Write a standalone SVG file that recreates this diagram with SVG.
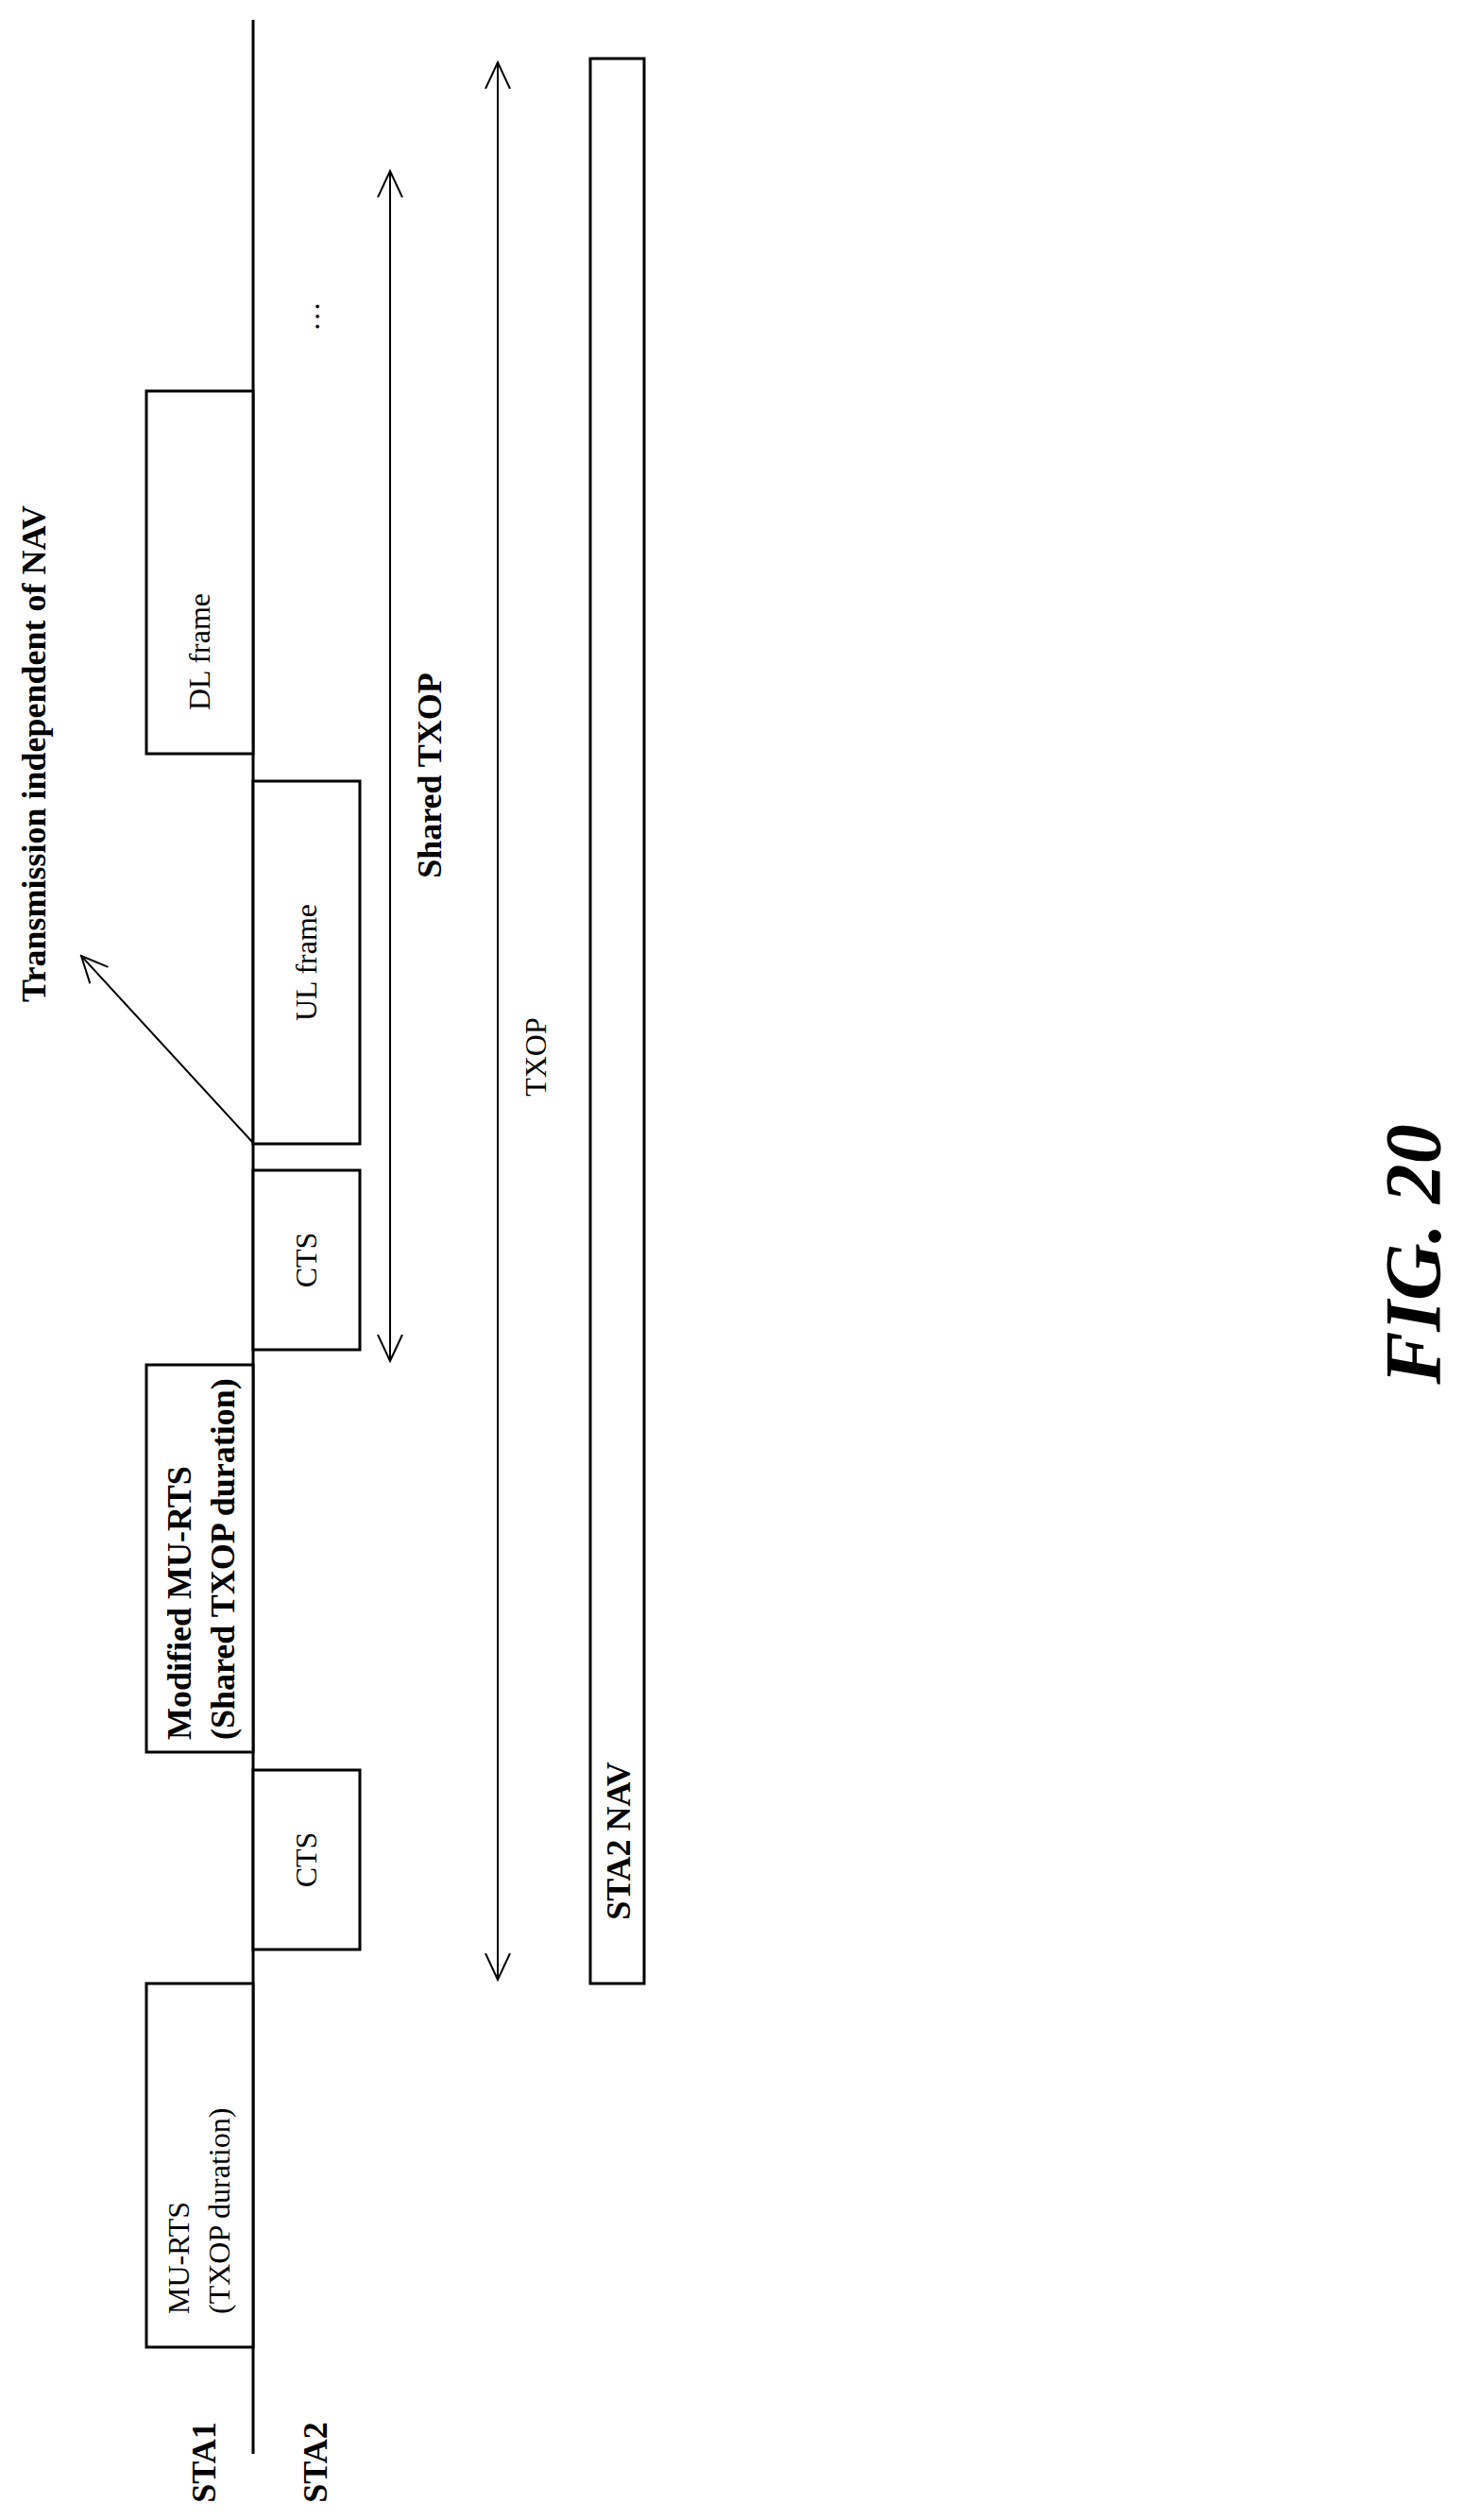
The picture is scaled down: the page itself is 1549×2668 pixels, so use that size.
<svg xmlns="http://www.w3.org/2000/svg" width="1549" height="2668" viewBox="0 0 1549 2668">
<style>
.b{fill:#fff;stroke:#000;stroke-width:3}
.l{stroke:#000;stroke-width:2;fill:none}
.t{font-family:"Liberation Serif",serif;font-size:32px;fill:#000}
.tb{font-family:"Liberation Serif",serif;font-size:36px;font-weight:bold;fill:#000}
</style>
<defs>
<marker id="a" viewBox="0 0 20 20" refX="18" refY="10" markerWidth="20" markerHeight="20" markerUnits="userSpaceOnUse" orient="auto-start-reverse"><path d="M0,0 L18,10 L0,20" fill="none" stroke="#000" stroke-width="2"/></marker>
<marker id="a2" viewBox="0 0 30 30" refX="28" refY="15" markerWidth="30" markerHeight="30" markerUnits="userSpaceOnUse" orient="auto-start-reverse"><path d="M0,2 L28,15 L0,28" fill="none" stroke="#000" stroke-width="2"/></marker>
</defs>
<rect width="1549" height="2668" fill="#fff"/>
<g id="timeline"><line x1="268" y1="21" x2="268" y2="2598" stroke="#000" stroke-width="3"/></g>
<g id="sta1"><text class="tb" transform="translate(228,2607) rotate(-90)" text-anchor="middle">STA1</text></g>
<g id="sta2"><text class="tb" transform="translate(346,2607) rotate(-90)" text-anchor="middle">STA2</text></g>
<g id="mu-rts"><rect class="b" x="155" y="2100" width="113" height="385"/>
<text class="t" transform="translate(200,2450) rotate(-90)">MU-RTS</text>
<text class="t" transform="translate(243,2450) rotate(-90)">(TXOP duration)</text></g>
<g id="cts1"><rect class="b" x="268" y="1874" width="113" height="190"/>
<text class="t" transform="translate(335,1969) rotate(-90)" text-anchor="middle">CTS</text></g>
<g id="mod-mu-rts"><rect class="b" x="155" y="1445" width="113" height="410"/>
<text class="tb" transform="translate(202,1842) rotate(-90)">Modified MU-RTS</text>
<text class="tb" transform="translate(248,1842) rotate(-90)">(Shared TXOP duration)</text></g>
<g id="cts2"><rect class="b" x="268" y="1239" width="113" height="190"/>
<text class="t" transform="translate(335,1334) rotate(-90)" text-anchor="middle">CTS</text></g>
<g id="ul"><rect class="b" x="268" y="827" width="113" height="384"/>
<text class="t" transform="translate(335,1019) rotate(-90)" text-anchor="middle">UL frame</text></g>
<g id="dl"><rect class="b" x="155" y="414" width="113" height="384"/>
<text class="t" transform="translate(222,690) rotate(-90)" text-anchor="middle">DL frame</text></g>
<g id="dots"><text class="t" transform="translate(338,335) rotate(-90)" text-anchor="middle">…</text></g>
<g id="nav-bar"><rect class="b" x="625" y="62" width="57" height="2038"/>
<text class="tb" transform="translate(667,1949) rotate(-90)" text-anchor="middle">STA2 NAV</text></g>
<g id="labels">
<text class="tb" transform="translate(48,798) rotate(-90)" text-anchor="middle">Transmission independent of NAV</text>
<text class="tb" transform="translate(467,821) rotate(-90)" text-anchor="middle">Shared TXOP</text>
<text class="t" transform="translate(578,1119) rotate(-90)" text-anchor="middle">TXOP</text>
<text transform="translate(1525,1328) rotate(-90)" text-anchor="middle" style="font-family:'Liberation Serif',serif;font-size:84px;font-weight:bold;font-style:italic">FIG. 20</text>
</g>
<g id="connectors">
<line class="l" x1="413" y1="181" x2="413" y2="1441" marker-start="url(#a2)" marker-end="url(#a2)"/>
<line class="l" x1="527" y1="66" x2="527" y2="2096" marker-start="url(#a2)" marker-end="url(#a2)"/>
<line class="l" x1="268" y1="1210" x2="86" y2="1012" marker-end="url(#a2)"/>
</g>
</svg>
